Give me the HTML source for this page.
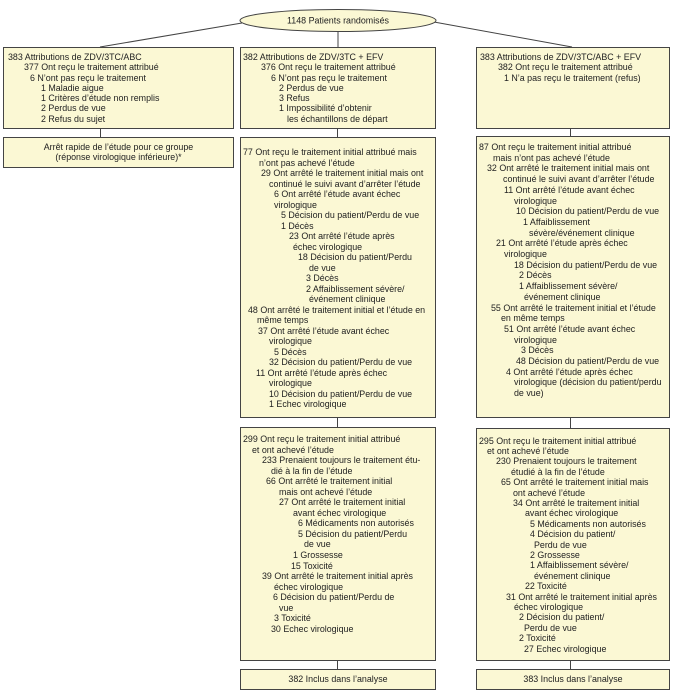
<!DOCTYPE html>
<html><head><meta charset="utf-8">
<style>
body{margin:0;width:675px;height:696px;background:#fff;position:relative;overflow:hidden;font-family:"Liberation Sans",Arial,sans-serif;font-size:8.9px;color:#222}
.b{position:absolute;background:#fbf8d4;border:1px solid #444;box-sizing:border-box;white-space:nowrap;overflow:hidden}
svg{position:absolute;left:0;top:0}
</style></head><body>
<svg width="675" height="696">
<g stroke="#444" stroke-width="1" fill="none">
<line x1="242" y1="23" x2="100" y2="47"/>
<line x1="434" y1="22" x2="572" y2="47"/>
<line x1="338" y1="32" x2="338" y2="47"/>
<line x1="100.5" y1="128" x2="100.5" y2="137"/>
<line x1="337.5" y1="128" x2="337.5" y2="137"/>
<line x1="570.5" y1="128" x2="570.5" y2="137"/>
<line x1="337.5" y1="417" x2="337.5" y2="427"/>
<line x1="570.5" y1="417" x2="570.5" y2="428"/>
<line x1="337.5" y1="660" x2="337.5" y2="669"/>
<line x1="570.5" y1="660" x2="570.5" y2="669"/>
</g>
<ellipse cx="338" cy="20.5" rx="98" ry="11" fill="#fbf8d4" stroke="#444"/>
<text x="338" y="23.5" text-anchor="middle" font-family="Liberation Sans, Arial, sans-serif" font-size="8.9" fill="#222">1148 Patients randomisés</text>
</svg>

<div class="b" style="left:3px;top:47px;width:231px;height:82px;line-height:10.3px;padding-top:4px">
<div style="margin-left:4px">383 Attributions de ZDV/3TC/ABC</div>
<div style="margin-left:20px">377 Ont reçu le traitement attribué</div>
<div style="margin-left:26px">6 N’ont pas reçu le traitement</div>
<div style="margin-left:37px">1 Maladie aigue</div>
<div style="margin-left:37px">1 Critères d’étude non remplis</div>
<div style="margin-left:37px">2 Perdus de vue</div>
<div style="margin-left:37px">2 Refus du sujet</div>
</div>

<div class="b" style="left:3px;top:137px;width:231px;height:31px;line-height:9.5px;padding-top:5px;text-align:center">
<div>Arrêt rapide de l’étude pour ce groupe</div>
<div>(réponse virologique inférieure)*</div>
</div>

<div class="b" style="left:240px;top:47px;width:196px;height:82px;line-height:10.3px;padding-top:4px">
<div style="margin-left:2px">382 Attributions de ZDV/3TC + EFV</div>
<div style="margin-left:20px">376 Ont reçu le traitement attribué</div>
<div style="margin-left:30px">6 N’ont pas reçu le traitement</div>
<div style="margin-left:38px">2 Perdus de vue</div>
<div style="margin-left:38px">3 Refus</div>
<div style="margin-left:38px">1 Impossibilité d’obtenir</div>
<div style="margin-left:46px">les échantillons de départ</div>
</div>

<div class="b" style="left:476px;top:47px;width:194px;height:82px;line-height:10.3px;padding-top:4px">
<div style="margin-left:3px">383 Attributions de ZDV/3TC/ABC + EFV</div>
<div style="margin-left:21px">382 Ont reçu le traitement attribué</div>
<div style="margin-left:27px">1 N’a pas reçu le traitement (refus)</div>
</div>

<div class="b" style="left:240px;top:137px;width:196px;height:281px;line-height:10.5px;padding-top:9px">
<div style="margin-left:2px">77 Ont reçu le traitement initial attribué mais</div>
<div style="margin-left:18px">n’ont pas achevé l’étude</div>
<div style="margin-left:20px">29 Ont arrêté le traitement initial mais ont</div>
<div style="margin-left:28px">continué le suivi avant d’arrêter l’étude</div>
<div style="margin-left:33px">6 Ont arrêté l’étude avant échec</div>
<div style="margin-left:33px">virologique</div>
<div style="margin-left:40px">5 Décision du patient/Perdu de vue</div>
<div style="margin-left:40px">1 Décès</div>
<div style="margin-left:48px">23 Ont arrêté l’étude après</div>
<div style="margin-left:52px">échec virologique</div>
<div style="margin-left:57px">18 Décision du patient/Perdu</div>
<div style="margin-left:68px">de vue</div>
<div style="margin-left:65px">3 Décès</div>
<div style="margin-left:65px">2 Affaiblissement sévère/</div>
<div style="margin-left:68px">événement clinique</div>
<div style="margin-left:7px">48 Ont arrêté le traitement initial et l’étude en</div>
<div style="margin-left:16px">même temps</div>
<div style="margin-left:17px">37 Ont arrêté l’étude avant échec</div>
<div style="margin-left:28px">virologique</div>
<div style="margin-left:33px">5 Décès</div>
<div style="margin-left:28px">32 Décision du patient/Perdu de vue</div>
<div style="margin-left:15px">11 Ont arrêté l’étude après échec</div>
<div style="margin-left:28px">virologique</div>
<div style="margin-left:28px">10 Décision du patient/Perdu de vue</div>
<div style="margin-left:28px">1 Echec virologique</div>
</div>

<div class="b" style="left:476px;top:136px;width:194px;height:282px;line-height:10.7px;padding-top:5px">
<div style="margin-left:2px">87 Ont reçu le traitement initial attribué</div>
<div style="margin-left:16px">mais n’ont pas achevé l’étude</div>
<div style="margin-left:10px">32 Ont arrêté le traitement initial mais ont</div>
<div style="margin-left:26px">continué le suivi avant d’arrêter l’étude</div>
<div style="margin-left:27px">11 Ont arrêté l’étude avant échec</div>
<div style="margin-left:37px">virologique</div>
<div style="margin-left:39px">10 Décision du patient/Perdu de vue</div>
<div style="margin-left:46px">1 Affaiblissement</div>
<div style="margin-left:52px">sévère/événement clinique</div>
<div style="margin-left:19px">21 Ont arrêté l’étude après échec</div>
<div style="margin-left:27px">virologique</div>
<div style="margin-left:37px">18 Décision du patient/Perdu de vue</div>
<div style="margin-left:42px">2 Décès</div>
<div style="margin-left:42px">1 Affaiblissement sévère/</div>
<div style="margin-left:47px">événement clinique</div>
<div style="margin-left:14px">55 Ont arrêté le traitement initial et l’étude</div>
<div style="margin-left:24px">en même temps</div>
<div style="margin-left:27px">51 Ont arrêté l’étude avant échec</div>
<div style="margin-left:37px">virologique</div>
<div style="margin-left:44px">3 Décès</div>
<div style="margin-left:39px">48 Décision du patient/Perdu de vue</div>
<div style="margin-left:29px">4 Ont arrêté l’étude après échec</div>
<div style="margin-left:37px">virologique (décision du patient/perdu</div>
<div style="margin-left:37px">de vue)</div>
</div>

<div class="b" style="left:240px;top:427px;width:196px;height:234px;line-height:10.55px;padding-top:6px">
<div style="margin-left:2px">299 Ont reçu le traitement initial attribué</div>
<div style="margin-left:11px">et ont achevé l’étude</div>
<div style="margin-left:21px">233 Prenaient toujours le traitement étu-</div>
<div style="margin-left:30px">dié à la fin de l’étude</div>
<div style="margin-left:25px">66 Ont arrêté le traitement initial</div>
<div style="margin-left:38px">mais ont achevé l’étude</div>
<div style="margin-left:38px">27 Ont arrêté le traitement initial</div>
<div style="margin-left:52px">avant échec virologique</div>
<div style="margin-left:57px">6 Médicaments non autorisés</div>
<div style="margin-left:57px">5 Décision du patient/Perdu</div>
<div style="margin-left:63px">de vue</div>
<div style="margin-left:52px">1 Grossesse</div>
<div style="margin-left:50px">15 Toxicité</div>
<div style="margin-left:21px">39 Ont arrêté le traitement initial après</div>
<div style="margin-left:33px">échec virologique</div>
<div style="margin-left:32px">6 Décision du patient/Perdu de</div>
<div style="margin-left:38px">vue</div>
<div style="margin-left:33px">3 Toxicité</div>
<div style="margin-left:30px">30 Echec virologique</div>
</div>

<div class="b" style="left:476px;top:428px;width:194px;height:233px;line-height:10.4px;padding-top:6.5px">
<div style="margin-left:2px">295 Ont reçu le traitement initial attribué</div>
<div style="margin-left:10px">et ont achevé l’étude</div>
<div style="margin-left:19px">230 Prenaient toujours le traitement</div>
<div style="margin-left:34px">étudié à la fin de l’étude</div>
<div style="margin-left:24px">65 Ont arrêté le traitement initial mais</div>
<div style="margin-left:36px">ont achevé l’étude</div>
<div style="margin-left:36px">34 Ont arrêté le traitement initial</div>
<div style="margin-left:48px">avant échec virologique</div>
<div style="margin-left:53px">5 Médicaments non autorisés</div>
<div style="margin-left:53px">4 Décision du patient/</div>
<div style="margin-left:57px">Perdu de vue</div>
<div style="margin-left:53px">2 Grossesse</div>
<div style="margin-left:53px">1 Affaiblissement sévère/</div>
<div style="margin-left:57px">événement clinique</div>
<div style="margin-left:48px">22 Toxicité</div>
<div style="margin-left:29px">31 Ont arrêté le traitement initial après</div>
<div style="margin-left:37px">échec virologique</div>
<div style="margin-left:42px">2 Décision du patient/</div>
<div style="margin-left:47px">Perdu de vue</div>
<div style="margin-left:42px">2 Toxicité</div>
<div style="margin-left:47px">27 Echec virologique</div>
</div>

<div class="b" style="left:240px;top:669px;width:196px;height:21px;line-height:19px;text-align:center">382 Inclus dans l’analyse</div>
<div class="b" style="left:476px;top:669px;width:194px;height:21px;line-height:19px;text-align:center">383 Inclus dans l’analyse</div>
</body></html>
